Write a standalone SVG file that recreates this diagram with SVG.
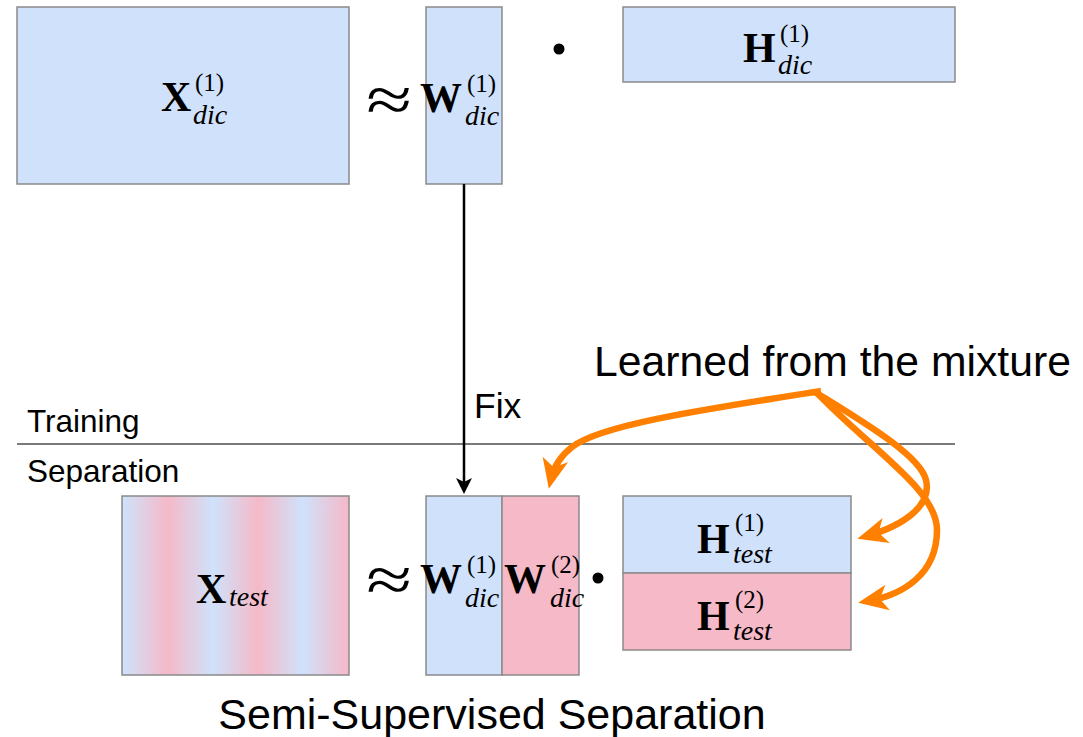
<svg xmlns="http://www.w3.org/2000/svg" width="1083" height="737" viewBox="0 0 1083 737">
  <style>
    .blue { fill: #d0e2fb; stroke: #8a8a8a; stroke-width: 1.5; }
    .pink { fill: #f5b9c8; stroke: #8a8a8a; stroke-width: 1.5; }
    .mix  { fill: url(#stripes); stroke: #8a8a8a; stroke-width: 1.5; }
    .bold { font-family: "Liberation Serif", "DejaVu Serif", serif; font-weight: bold; font-size: 42px; fill: #000; }
    .sub  { font-family: "Liberation Serif", "DejaVu Serif", serif; font-style: italic; font-size: 28px; fill: #000; }
    .sup  { font-family: "Liberation Serif", "DejaVu Serif", serif; font-size: 25px; fill: #000; }
    .approx { font-family: "Liberation Serif", "DejaVu Serif", serif; font-size: 64px; fill: #000; text-anchor: middle; }
    .label { font-family: "Liberation Sans", Arial, sans-serif; fill: #000; }
    .orange { fill: none; stroke: #ff8000; stroke-width: 6.5; }
  </style>
  <defs>
    <linearGradient id="stripes" gradientUnits="userSpaceOnUse" x1="123" y1="0" x2="213" y2="0" spreadMethod="repeat">
      <stop offset="0" stop-color="#cfe2fb"/>
      <stop offset="0.5" stop-color="#f5b9c8"/>
      <stop offset="1" stop-color="#cfe2fb"/>
    </linearGradient>
    <marker id="headOrange" markerUnits="userSpaceOnUse" viewBox="-22 -14 33 28" refX="0" refY="0" markerWidth="33" markerHeight="28" orient="auto">
      <path d="M10,0 L-20,-13 L-12,0 L-20,13 Z" fill="#ff8000"/>
    </marker>
    <marker id="headBlack" markerUnits="userSpaceOnUse" viewBox="-14 -9 20 18" refX="0" refY="0" markerWidth="20" markerHeight="18" orient="auto">
      <path d="M4,0 L-12,-8 L-8,0 L-12,8 Z" fill="#000"/>
    </marker>
  </defs>

  <rect width="1083" height="737" fill="#fff"/>

  <!-- training / separation divider -->
  <line x1="17" y1="444" x2="955" y2="444" stroke="#7a7a7a" stroke-width="2"/>
  <text class="label" x="27" y="432" font-size="31.5">Training</text>
  <text class="label" x="27" y="482" font-size="31.5">Separation</text>

  <!-- training row -->
  <g id="x-dic">
    <rect class="blue" x="17" y="7" width="332" height="177"/>
    <text class="bold" x="161" y="111">X</text>
    <text class="sup" x="195" y="91">(1)</text>
    <text class="sub" x="193" y="124">dic</text>
  </g>
  <text class="approx" transform="translate(389 0) scale(1.3 1)" x="0" y="121">≈</text>
  <g id="w-dic-train">
    <rect class="blue" x="426" y="7" width="76" height="177"/>
    <text class="bold" x="420" y="112">W</text>
    <text class="sup" x="467" y="92">(1)</text>
    <text class="sub" x="465" y="125">dic</text>
  </g>
  <circle cx="559" cy="49" r="5.5" fill="#000"/>
  <g id="h-dic">
    <rect class="blue" x="623" y="7" width="332" height="75"/>
    <text class="bold" x="743" y="62">H</text>
    <text class="sup" x="780" y="42">(1)</text>
    <text class="sub" x="778" y="74">dic</text>
  </g>

  <!-- separation row -->
  <g id="x-test">
    <rect class="mix" x="122" y="496" width="227" height="179"/>
    <text class="bold" x="196" y="603">X</text>
    <text class="sub" x="229" y="606">test</text>
  </g>
  <text class="approx" transform="translate(389 0) scale(1.3 1)" x="0" y="601">≈</text>
  <g id="w-dic-sep">
    <rect class="blue" x="426" y="496" width="76" height="179"/>
    <rect class="pink" x="502" y="496" width="77" height="179"/>
    <text class="bold" x="420" y="593">W</text>
    <text class="sup" x="467" y="573">(1)</text>
    <text class="sub" x="465" y="607">dic</text>
    <text class="bold" x="504" y="593">W</text>
    <text class="sup" x="551" y="573">(2)</text>
    <text class="sub" x="550" y="607">dic</text>
  </g>
  <circle cx="598" cy="578" r="5.5" fill="#000"/>
  <g id="h-test">
    <rect class="blue" x="623" y="496" width="228" height="77"/>
    <rect class="pink" x="623" y="573" width="228" height="77"/>
    <text class="bold" x="697" y="553">H</text>
    <text class="sup" x="735" y="531">(1)</text>
    <text class="sub" x="733" y="563">test</text>
    <text class="bold" x="697" y="630">H</text>
    <text class="sup" x="735" y="608">(2)</text>
    <text class="sub" x="733" y="640">test</text>
  </g>

  <text class="label" x="594" y="376" font-size="42.7">Learned from the mixture</text>
  <text class="label" x="492" y="729" font-size="43" text-anchor="middle">Semi-Supervised Separation</text>

  <!-- connectors -->
  <g id="connectors">
    <line x1="464" y1="184" x2="464" y2="490" stroke="#000" stroke-width="2.5" marker-end="url(#headBlack)"/>
    <text class="label" x="474" y="418" font-size="35.5">Fix</text>
    <path class="orange" d="M 821 391 C 700 410, 600 425, 572 447 C 558 458, 553 470, 551 479" marker-end="url(#headOrange)"/>
    <path class="orange" d="M 815 392 C 860 420, 920 455, 926 480 C 932 505, 905 525, 867 536" marker-end="url(#headOrange)"/>
    <path class="orange" d="M 817 393 C 872 450, 937 490, 937 530 C 937 575, 902 595, 868 601" marker-end="url(#headOrange)"/>
  </g>
</svg>
